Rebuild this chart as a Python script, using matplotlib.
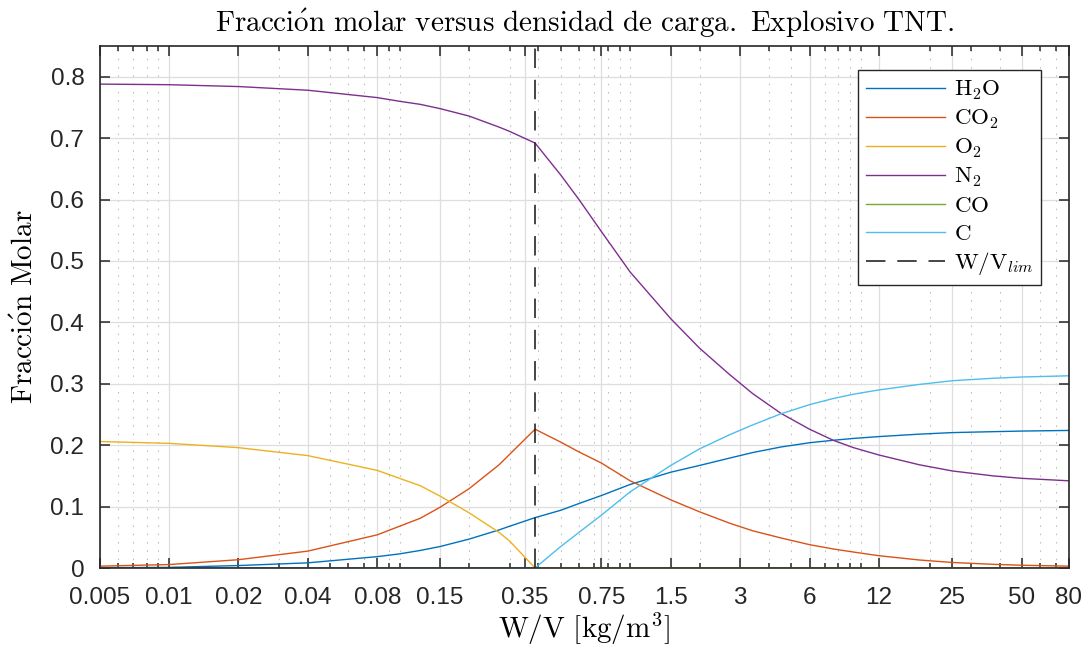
import numpy as np
import matplotlib
matplotlib.use('Agg')
import matplotlib.pyplot as plt
from matplotlib.ticker import FixedLocator, LogLocator, NullFormatter

plt.rcParams['mathtext.fontset'] = 'cm'
plt.rcParams['font.family'] = ['Liberation Sans', 'DejaVu Sans']
plt.rcParams['lines.scale_dashes'] = False

# densidad de carga W/V [kg/m3]
wv = [0.005, 0.01, 0.02, 0.04, 0.08, 0.1, 0.123, 0.15, 0.2, 0.27, 0.3, 0.387,
      0.5, 0.6, 0.75, 1.0, 1.5, 2.0, 2.7, 3.4, 4.5, 6.0, 7.6, 9.3, 12, 18, 25, 37.5, 50, 80]

h2o = [0.0005, 0.001, 0.004, 0.0084, 0.0185, 0.023, 0.0286, 0.035, 0.047, 0.062, 0.068, 0.082,
       0.094, 0.105, 0.118, 0.136, 0.156, 0.167, 0.179, 0.188, 0.197, 0.204, 0.208, 0.211, 0.214, 0.218, 0.2205, 0.222, 0.223, 0.224]
co2 = [0.003, 0.0056, 0.0135, 0.0275, 0.054, 0.068, 0.081, 0.099, 0.129, 0.168, 0.185, 0.226,
       0.205, 0.189, 0.171, 0.142, 0.111, 0.0915, 0.073, 0.0606, 0.049, 0.038, 0.031, 0.026, 0.020, 0.013, 0.009, 0.006, 0.0045, 0.003]
o2 = [0.206, 0.203, 0.196, 0.183, 0.159, 0.146, 0.134, 0.117, 0.090, 0.058, 0.044, 0.0,
      0, 0, 0, 0, 0, 0, 0, 0, 0, 0, 0, 0, 0, 0, 0, 0, 0, 0]
n2 = [0.788, 0.787, 0.784, 0.778, 0.766, 0.760, 0.755, 0.748, 0.736, 0.718, 0.711, 0.692,
      0.640, 0.600, 0.548, 0.482, 0.406, 0.358, 0.315, 0.284, 0.252, 0.226, 0.208, 0.196, 0.184, 0.168, 0.158, 0.150, 0.146, 0.142]
co = [0.0] * len(wv)
c = [0, 0, 0, 0, 0, 0, 0, 0, 0, 0, 0, 0,
     0.035, 0.058, 0.086, 0.124, 0.167, 0.194, 0.217, 0.233, 0.251, 0.266, 0.276, 0.283, 0.29, 0.299, 0.305, 0.309, 0.311, 0.313]

wv_lim = 0.387

xticks = [0.005, 0.01, 0.02, 0.04, 0.08, 0.15, 0.35, 0.75, 1.5, 3, 6, 12, 25, 50, 80]
xticklabels = ['0.005', '0.01', '0.02', '0.04', '0.08', '0.15', '0.35', '0.75', '1.5', '3', '6', '12', '25', '50', '80']
yticks = [0, 0.1, 0.2, 0.3, 0.4, 0.5, 0.6, 0.7, 0.8]

colors = ['#0072BD', '#D95319', '#EDB120', '#7E2F8E', '#77AC30', '#4DBEEE']
ax_color = '#262626'

fig = plt.figure(figsize=(10.88, 6.49), dpi=100)
ax = fig.add_axes([0.0915, 0.1248, 0.891, 0.8043])

ax.plot(wv, h2o, color=colors[0], lw=1.0, label=r'$\mathrm{H_2O}$', zorder=3)
ax.plot(wv, co2, color=colors[1], lw=1.0, label=r'$\mathrm{CO_2}$', zorder=3)
ax.plot(wv, o2, color=colors[2], lw=1.0, label=r'$\mathrm{O_2}$', zorder=3.2)
ax.plot(wv, n2, color=colors[3], lw=1.0, label=r'$\mathrm{N_2}$', zorder=3)
ax.plot(wv, co, color=colors[4], lw=1.0, label=r'$\mathrm{CO}$', zorder=3.1)
ax.plot(wv, c, color=colors[5], lw=1.0, label=r'$\mathrm{C}$', zorder=3.3)
ax.axvline(wv_lim, color=ax_color, lw=1.2, dashes=(14, 8.5), label=r'$\mathrm{W/V}_{lim}$', zorder=3.4)

ax.set_xscale('log')
ax.set_xlim(0.005, 80)
ax.set_ylim(0, 0.85)
ax.xaxis.set_major_locator(FixedLocator(xticks))
ax.set_xticklabels(xticklabels)
ax.xaxis.set_minor_locator(LogLocator(base=10, subs=np.arange(1, 10), numticks=50))
ax.xaxis.set_minor_formatter(NullFormatter())
ax.set_yticks(yticks)
ax.set_yticklabels(['0', '0.1', '0.2', '0.3', '0.4', '0.5', '0.6', '0.7', '0.8'])

ax.grid(True, which='major', color='#dedede', lw=0.9, ls='-', zorder=0)
ax.grid(True, which='minor', axis='x', color='#b8b8b8', lw=0.8, ls=(0, (1, 5)), zorder=0)
ax.set_axisbelow(True)

ax.tick_params(which='both', direction='in', top=True, right=True, color=ax_color,
               width=1.1, labelsize=17.5, labelcolor=ax_color)
ax.tick_params(which='major', length=7)
ax.tick_params(which='minor', length=3.5)
ax.tick_params(axis='x', which='major', pad=14)
ax.tick_params(axis='y', which='major', pad=11)
for s in ax.spines.values():
    s.set_color(ax_color)
    s.set_linewidth(1.2)
    s.set_zorder(4)

ax.set_title(r'$\mathrm{Fracci\acute{o}n\ molar\ versus\ densidad\ de\ carga.\ Explosivo\ TNT.}$',
             fontsize=21, pad=10, color='k')
ax.set_xlabel(r'$\mathrm{W/V\ [kg/m^3]}$', fontsize=21, labelpad=1)
ax.set_ylabel(r'$\mathrm{Fracci\acute{o}n\ Molar}$', fontsize=21, labelpad=8)

leg = ax.legend(loc='upper right', bbox_to_anchor=(0.971, 0.9535), borderaxespad=0,
                fontsize=16.6, handlelength=3.45, handletextpad=0.35, labelspacing=0.22,
                borderpad=0.33, fancybox=False, framealpha=1)
leg.get_frame().set_edgecolor(ax_color)
leg.get_frame().set_linewidth(1.0)

fig.savefig('out.png', dpi=100)
